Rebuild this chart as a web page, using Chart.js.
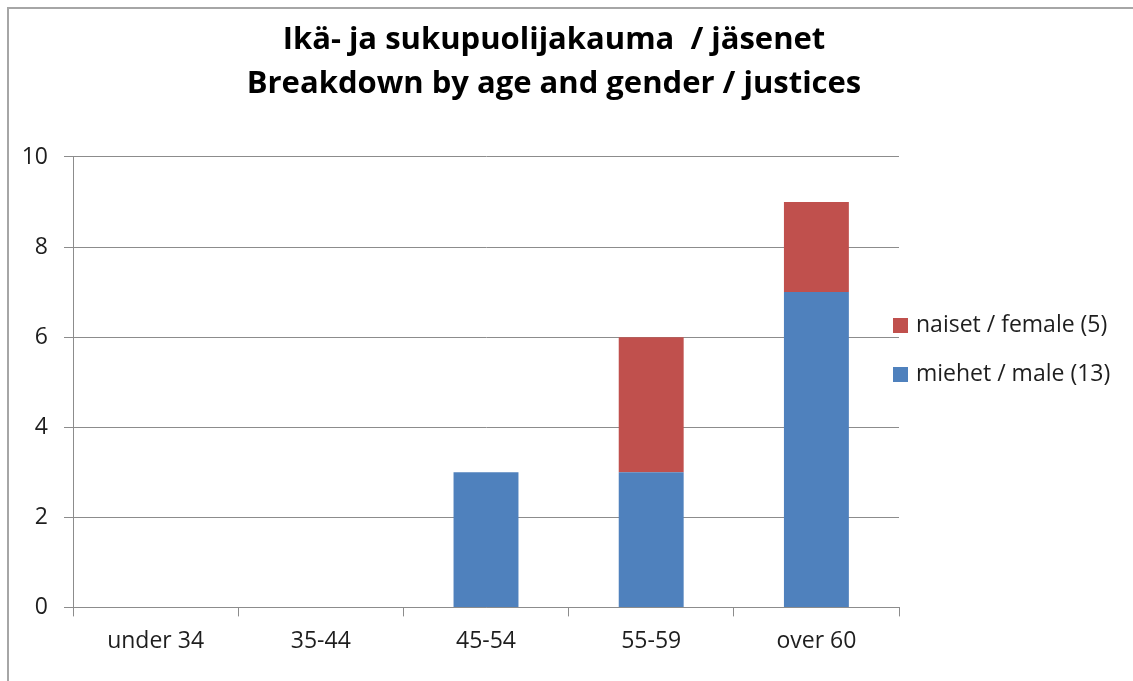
<!DOCTYPE html>
<html>
<head>
<meta charset="utf-8">
<script src="https://cdn.jsdelivr.net/npm/chart.js@4/dist/chart.umd.min.js"></script>
<style>
  html, body { margin: 0; padding: 0; background: #fff; }
  #wrap { position: relative; width: 1133px; height: 681px; overflow: hidden; }
  canvas { position: absolute; left: 0; top: 0; }
  #frame { position: absolute; left: 7px; top: 7px; width: 1200px; height: 800px;
           border-left: 2px solid #a6a6a6; border-top: 2px solid #a6a6a6; pointer-events: none; }
</style>
</head>
<body>
<div id="wrap">
  <canvas id="c" width="1133" height="681"></canvas>
  <div id="frame"></div>
</div>
<script>
const titleLines = ['Ikä- ja sukupuolijakauma  / jäsenet', 'Breakdown by age and gender / justices'];
const categories = ['under 34', '35-44', '45-54', '55-59', 'over 60'];
const maleLabel = 'miehet / male (13)';
const femaleLabel = 'naiset / female (5)';
const maleValues = [0, 0, 3, 3, 7];
const femaleValues = [0, 0, 0, 3, 2];
const yTicks = [0, 2, 4, 6, 8, 10];

const FONT = '"Open Sans", "Noto Sans", sans-serif';
const TEXT = '#1e1e1e';
const GRID = '#8c8c8c';

const sideLegend = {
  id: 'sideLegend',
  afterDraw(chart) {
    const ctx = chart.ctx;
    const ca = chart.chartArea;
    const ds = chart.data.datasets.slice().reverse();
    ctx.save();
    ctx.font = '23px ' + FONT;
    ctx.textBaseline = 'middle';
    ctx.textAlign = 'left';
    const startY = 325.5;
    ds.forEach((d, i) => {
      const y = startY + i * 49;
      ctx.fillStyle = d.backgroundColor;
      ctx.fillRect(ca.right - 6, y - 7.5, 15, 15);
      ctx.fillStyle = TEXT;
      ctx.fillText(d.label, ca.right + 17, y);
    });
    ctx.restore();
  }
};

new Chart(document.getElementById('c'), {
  type: 'bar',
  data: {
    labels: categories,
    datasets: [
      { label: maleLabel, data: maleValues, backgroundColor: '#4f81bd', barPercentage: 0.393, categoryPercentage: 1 },
      { label: femaleLabel, data: femaleValues, backgroundColor: '#c0504d', barPercentage: 0.393, categoryPercentage: 1 }
    ]
  },
  options: {
    responsive: false,
    animation: false,
    layout: { padding: { left: 0, right: 25, top: 0, bottom: 15 } },
    plugins: {
      legend: { display: false },
      tooltip: { enabled: false },
      title: {
        display: true,
        text: titleLines,
        color: '#000',
        font: { family: FONT, size: 31, weight: 'bold', lineHeight: 1.419 },
        padding: { top: 18, bottom: 51 }
      }
    },
    scales: {
      x: {
        stacked: true,
        grid: { display: true, drawOnChartArea: false, color: GRID, tickLength: 9, tickColor: GRID },
        border: { display: true, color: GRID, width: 1 },
        ticks: { color: TEXT, font: { family: FONT, size: 23 }, padding: 11 }
      },
      y: {
        stacked: true,
        min: 0, max: 10,
        afterFit(scale) { scale.width = 73; },
        afterBuildTicks(scale) { scale.ticks = yTicks.map(v => ({ value: v })); },
        grid: { color: GRID, tickLength: 9, tickColor: GRID },
        border: { display: true, color: GRID, width: 1 },
        ticks: { color: TEXT, font: { family: FONT, size: 23 }, padding: 16 }
      },
      yr: {
        type: 'linear',
        position: 'right',
        display: true,
        afterFit(scale) { scale.width = 209; },
        grid: { display: false },
        border: { display: false },
        ticks: { display: false }
      }
    }
  },
  plugins: [sideLegend]
});
</script>
</body>
</html>
